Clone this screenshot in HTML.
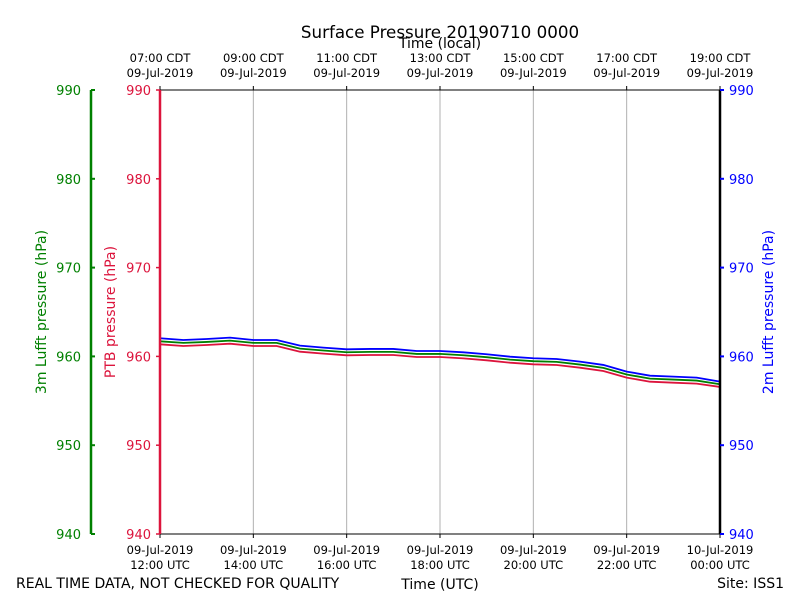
<!DOCTYPE html>
<html><head><meta charset="utf-8"><style>
body{margin:0;background:#fff;font-family:"Liberation Sans","DejaVu Sans",sans-serif;}
svg text{font-family:"DejaVu Sans","Liberation Sans",sans-serif;}
</style></head><body>
<svg id="chart" width="800" height="600" xmlns="http://www.w3.org/2000/svg">
<rect width="800" height="600" fill="#fff"/>
<text x="440" y="38" font-size="16.7" text-anchor="middle">Surface Pressure 20190710 0000</text>
<text x="440" y="48" font-size="14" text-anchor="middle">Time (local)</text>
<text x="440" y="589" font-size="14" text-anchor="middle">Time (UTC)</text>
<text x="16" y="588" font-size="14">REAL TIME DATA, NOT CHECKED FOR QUALITY</text>
<text x="784" y="588" font-size="14" text-anchor="end">Site: ISS1</text>
<text transform="translate(46,312) rotate(-90)" font-size="14" fill="green" text-anchor="middle">3m Lufft pressure (hPa)</text>
<text transform="translate(115,312) rotate(-90)" font-size="14" fill="crimson" text-anchor="middle">PTB pressure (hPa)</text>
<text transform="translate(773,312) rotate(-90)" font-size="14" fill="blue" text-anchor="middle">2m Lufft pressure (hPa)</text>
<g id="grid"></g><g id="series"></g><g id="axes"></g>
</svg>
<script>
const hours=[0,0.5,1,1.5,2,2.5,3,3.5,4,4.5,5,5.5,6,6.5,7,7.5,8,8.5,9,9.5,10,10.5,11,11.5,12];
const blue2m=[962.04,961.85,961.96,962.11,961.85,961.85,961.21,960.99,960.80,960.84,960.84,960.61,960.61,960.46,960.24,959.97,959.79,959.71,959.41,959.04,958.29,957.83,957.72,957.61,957.16];
const green3m=[961.70,961.52,961.63,961.78,961.52,961.52,960.88,960.66,960.47,960.51,960.51,960.28,960.28,960.13,959.91,959.64,959.46,959.38,959.08,958.71,957.96,957.50,957.39,957.28,956.86];
const redPtb=[961.36,961.17,961.28,961.43,961.17,961.17,960.53,960.31,960.12,960.16,960.16,959.93,959.93,959.78,959.56,959.29,959.11,959.03,958.73,958.36,957.61,957.15,957.04,956.93,956.56];
const yTicks=[940,950,960,970,980,990];
const utcTop=["09-Jul-2019","09-Jul-2019","09-Jul-2019","09-Jul-2019","09-Jul-2019","09-Jul-2019","10-Jul-2019"];
const utcBot=["12:00 UTC","14:00 UTC","16:00 UTC","18:00 UTC","20:00 UTC","22:00 UTC","00:00 UTC"];
const localTop=["07:00 CDT","09:00 CDT","11:00 CDT","13:00 CDT","15:00 CDT","17:00 CDT","19:00 CDT"];
const tickHours=[0,2,4,6,8,10,12];
const X0=160,X1=720,Y0=534,Y1=90;
const xs=h=>X0+(X1-X0)*h/12;
const ys=v=>Y0-(Y0-Y1)*(v-940)/50;
const NS="http://www.w3.org/2000/svg";
function mk(tag,attrs,parent,txt){const e=document.createElementNS(NS,tag);for(const k in attrs)e.setAttribute(k,attrs[k]);if(txt!==undefined)e.textContent=txt;document.getElementById(parent).appendChild(e);return e;}
tickHours.forEach((h,i)=>{
  if(i>0&&i<6){const g=mk('line',{x1:xs(h),x2:xs(h),y1:Y1,y2:Y0,stroke:'#b0b0b0','stroke-width':1},'grid');
  
  }
  const t=mk('line',{x1:xs(h),x2:xs(h),y1:Y0,y2:Y0+4,stroke:'#000'},'axes');
  
  
  const t2=mk('line',{x1:xs(h),x2:xs(h),y1:Y1,y2:Y1-4,stroke:'#000'},'axes');
  
  
  const a=mk('text',{x:xs(h),y:554,'font-size':11.5,'text-anchor':'middle'},'axes',utcTop[i]);
  
  
  const b=mk('text',{x:xs(h),y:569,'font-size':11.5,'text-anchor':'middle'},'axes',utcBot[i]);
  
  
  const c=mk('text',{x:xs(h),y:62,'font-size':11.5,'text-anchor':'middle'},'axes',localTop[i]);
  
  
  const d=mk('text',{x:xs(h),y:77,'font-size':11.5,'text-anchor':'middle'},'axes',utcTop[Math.min(i,5)]);
  
  
});
[[blue2m,'blue','blue-2m-line'],[green3m,'green','green-3m-line'],[redPtb,'crimson','red-ptb-line']].forEach(([arr,col,nm])=>{
  const p=mk('polyline',{points:arr.map((v,i)=>xs(hours[i])+','+ys(v)).join(' '),fill:'none',stroke:col,'stroke-width':1.8},'series');
  
  
});
const sp=[[X0,Y1,X1,Y1,'#000',1],[X0,Y0,X1,Y0,'#000',1],[X1,Y1,X1,Y0,'#000',2.5],[X0,Y1,X0,Y0,'crimson',2.5],[91,Y1,91,Y0,'green',2.5]];
sp.forEach(s=>{const l=mk('line',{x1:s[0],y1:s[1],x2:s[2],y2:s[3],stroke:s[4],'stroke-width':s[5]},'axes');
  
  });
yTicks.forEach(v=>{
  const y=ys(v);
  const a=mk('line',{x1:X0-4,x2:X0,y1:y,y2:y,stroke:'crimson','stroke-width':1.5},'axes');
  
  
  const b=mk('line',{x1:X1,x2:X1+4,y1:y,y2:y,stroke:'blue','stroke-width':2},'axes');
  
  
  const c=mk('line',{x1:91,x2:95,y1:y,y2:y,stroke:'green','stroke-width':2},'axes');
  
  
  const d=mk('text',{x:151,y:y+5,'font-size':13,fill:'crimson','text-anchor':'end'},'axes',v);
  
  
  const e=mk('text',{x:729,y:y+5,'font-size':13,fill:'blue'},'axes',v);
  
  
  const f=mk('text',{x:81,y:y+5,'font-size':13,fill:'green','text-anchor':'end'},'axes',v);
  
  
});
</script>
</body></html>
